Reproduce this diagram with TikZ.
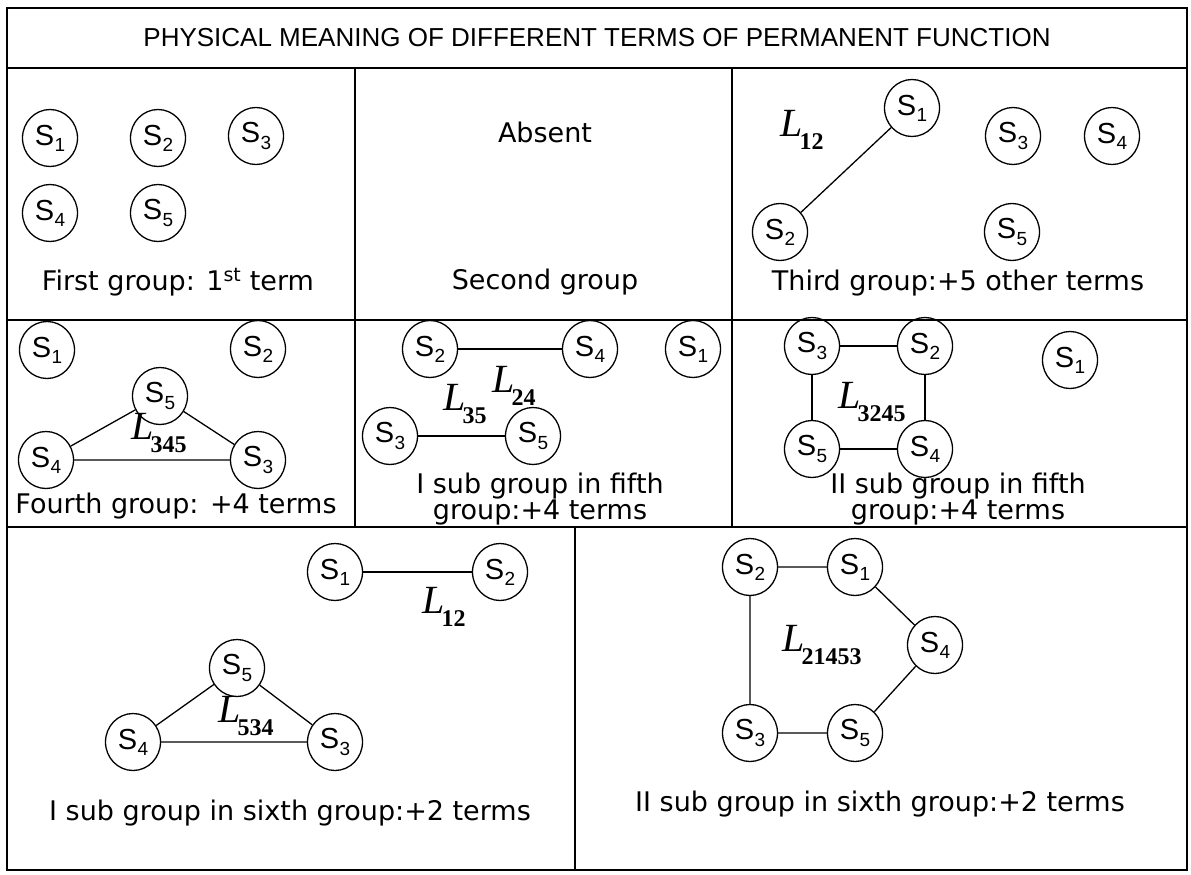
\documentclass[tikz,border=0pt]{standalone}
\usepackage{fontspec}
\setmainfont{DejaVu Sans}
\newfontfamily\arialfont{Liberation Sans}
\newfontfamily\timesfont{Liberation Serif}
\usetikzlibrary{shapes.geometric,positioning}
\newcommand{\stn}[1]{S\kern0.5pt\raisebox{-0.4ex}{\fontsize{19}{19}\selectfont #1}}
\newcommand{\lnk}[1]{{\timesfont\itshape L}\kern-3pt\raisebox{-0.6ex}{\timesfont\bfseries\fontsize{24}{24}\selectfont #1}}

\begin{document}
\begin{tikzpicture}[
    x=1pt, y=-1pt,
    station/.style={ellipse,draw,line width=1.3pt,minimum width=55pt,minimum height=57pt,
      inner sep=0pt,font=\arialfont\fontsize{29}{29}\selectfont},
    frame/.style={line width=2pt},
    link/.style={line width=1.3pt},
    caption/.style={font=\fontsize{27}{25}\selectfont,align=center,inner sep=0pt},
    loopname/.style={font=\fontsize{40}{40}\selectfont,inner sep=0pt},
    heading/.style={font=\arialfont\fontsize{26}{26}\selectfont}
  ]
    \useasboundingbox (0,0) rectangle (1191,875);
    % table
    \draw[frame] (7,8) rectangle (1187,870);
    \draw[frame] (7,68) -- (1187,68);
    \draw[frame] (7,320) -- (1187,320);
    \draw[frame] (7,527) -- (1187,527);
    \draw[frame] (355,68) -- (355,527);
    \draw[frame] (732,68) -- (732,527);
    \draw[frame] (575,527) -- (575,870);
    \node[heading] (title) at (597,38) {PHYSICAL MEANING OF DIFFERENT TERMS OF PERMANENT FUNCTION};

    % first group
    \node[station] (a1) at (50,138) {\stn{1}};
    \node[station] (a2) at (158,138) {\stn{2}};
    \node[station] (a3) at (256,136) {\stn{3}};
    \node[station] (a4) at (50,213) {\stn{4}};
    \node[station] (a5) at (158,213) {\stn{5}};
    \node[caption] (capa) at (178,282) {First group: 1\textsuperscript{st} term};

    % second group
    \node[caption] (absent) at (545,132) {Absent};
    \node[caption] (capb) at (545,282) {Second group};

    % third group
    \node[station] (b1) at (912,108) {\stn{1}};
    \node[station] (b3) at (1013,136) {\stn{3}};
    \node[station] (b4) at (1112,136) {\stn{4}};
    \node[station] (b2) at (780,232) {\stn{2}};
    \node[station] (b5) at (1012,232) {\stn{5}};
    \draw[link] (b1) -- (b2);
    \node[loopname] (lb) at (802,130) {\lnk{12}};
    \node[caption] (capc) at (958,283) {Third group:+5 other terms};

    % fourth group
    \node[station] (c1) at (47,350) {\stn{1}};
    \node[station] (c2) at (258,349) {\stn{2}};
    \node[station] (c5) at (160,396) {\stn{5}};
    \node[station] (c4) at (46,460) {\stn{4}};
    \node[station] (c3) at (258,460) {\stn{3}};
    \draw[link] (c5) -- (c3) -- (c4) -- (c5);
    \node[loopname] (lc) at (159,433) {\lnk{345}};
    \node[caption] (capd) at (176,506) {Fourth group: +4 terms};

    % fifth group, first sub group
    \node[station] (d2) at (430,349) {\stn{2}};
    \node[station] (d4) at (590,349) {\stn{4}};
    \node[station] (d1) at (693,349) {\stn{1}};
    \draw[link] (d2) -- (d4);
    \node[loopname] (ld) at (514,386) {\lnk{24}};
    \node[station] (d3) at (390,436) {\stn{3}};
    \node[station] (d5) at (533,436) {\stn{5}};
    \draw[link] (d3) -- (d5);
    \node[loopname] (le) at (465,404) {\lnk{35}};
    \node[caption] (cape) at (540,499) {I sub group in fifth\\group:+4 terms};

    % fifth group, second sub group
    \node[station] (e3) at (812,346) {\stn{3}};
    \node[station] (e2) at (925,346) {\stn{2}};
    \node[station] (e5) at (812,449) {\stn{5}};
    \node[station] (e4) at (925,449) {\stn{4}};
    \node[station] (e1) at (1070,360) {\stn{1}};
    \draw[link] (e3) -- (e2) -- (e4) -- (e5) -- (e3);
    \node[loopname] (lf) at (872,402) {\lnk{3245}};
    \node[caption] (capf) at (958,499) {II sub group in fifth\\group:+4 terms};

    % sixth group, first sub group
    \node[station] (f1) at (335,572) {\stn{1}};
    \node[station] (f2) at (500,572) {\stn{2}};
    \draw[link] (f1) -- (f2);
    \node[loopname] (lg) at (444,607) {\lnk{12}};
    \node[station] (f5) at (237,668) {\stn{5}};
    \node[station] (f4) at (133,742) {\stn{4}};
    \node[station] (f3) at (335,742) {\stn{3}};
    \draw[link] (f5) -- (f3) -- (f4) -- (f5);
    \node[loopname] (lh) at (246,716) {\lnk{534}};
    \node[caption] (capg) at (290,813) {I sub group in sixth group:+2 terms};

    % sixth group, second sub group
    \node[station] (g2) at (750,567) {\stn{2}};
    \node[station] (g1) at (855,567) {\stn{1}};
    \node[station] (g4) at (935,645) {\stn{4}};
    \node[station] (g5) at (855,733) {\stn{5}};
    \node[station] (g3) at (750,733) {\stn{3}};
    \draw[link] (g2) -- (g1) -- (g4) -- (g5) -- (g3) -- (g2);
    \node[loopname] (li) at (822,645) {\lnk{21453}};
    \node[caption] (caph) at (880,804) {II sub group in sixth group:+2 terms};
\end{tikzpicture}
\end{document}
